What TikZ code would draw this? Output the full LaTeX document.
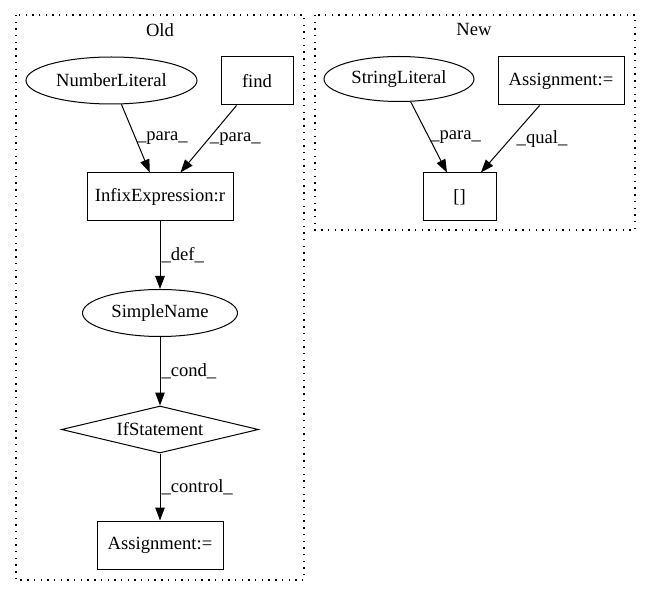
\documentclass[tikz,border=0pt]{standalone}
\usepackage{fontspec}
\setmainfont{Liberation Serif}
\usetikzlibrary{shapes.geometric,arrows.meta}
\begin{document}
\begin{tikzpicture}[x=1pt,y=-1pt,
  every node/.style={font=\fontsize{18.6pt}{21pt}\selectfont},
  box/.style={draw,line width=1pt,rectangle,minimum height=48pt,inner sep=0pt},
  oval/.style={draw,line width=1pt,ellipse,minimum height=47pt,inner sep=0pt},
  dia/.style={draw,line width=1pt,diamond,aspect=4.2,inner sep=0pt},
  cluster/.style={draw,line width=1.1pt,dash pattern=on 1.4pt off 5.3pt},
  arr/.style={draw,line width=1pt,-{Triangle[length=13pt,width=9.5pt]}},
  lbl/.style={right,inner sep=1pt}]
\useasboundingbox (0,0) rectangle (651,596);
% clusters
\draw[cluster] (16,15) rectangle (304,580);
\node (oldt) at (160,30) {Old};
\draw[cluster] (315,15) rectangle (635,230);
\node (newt) at (474,30) {New};
% old nodes
\node[oval,minimum width=171pt] (nl) at (111.5,80.5) {NumberLiteral};
\node[box,minimum width=72pt] (find) at (257,81) {find};
\node[box,minimum width=146pt] (infix) at (160,197) {InfixExpression:r};
\node[oval,minimum width=155pt] (sn) at (160,313) {SimpleName};
\node[dia,minimum width=197pt,minimum height=47pt] (ifs) at (160,429.5) {IfStatement};
\node[box,minimum width=126pt] (asg) at (160,545) {Assignment:=};
% new nodes
\node[oval,minimum width=150pt,minimum height=45pt] (sl) at (399,79) {StringLiteral};
\node[box,minimum width=126pt] (asg2) at (561,81) {Assignment:=};
\node[box,minimum width=73pt] (br) at (459.5,197) {[]};
% edges
\draw[arr] (nl) -- (infix) node[lbl,pos=0.5] {\_para\_};
\draw[arr] (find) -- (infix) node[lbl,pos=0.5] {\_para\_};
\draw[arr] (infix) -- (sn) node[lbl,pos=0.5] {\_def\_};
\draw[arr] (sn) -- (ifs) node[lbl,pos=0.5] {\_cond\_};
\draw[arr] (ifs) -- (asg) node[lbl,pos=0.5] {\_control\_};
\draw[arr] (sl) -- (br) node[lbl,pos=0.5] {\_para\_};
\draw[arr] (asg2) -- (br) node[lbl,pos=0.5,xshift=5pt] {\_qual\_};
\end{tikzpicture}
\end{document}
